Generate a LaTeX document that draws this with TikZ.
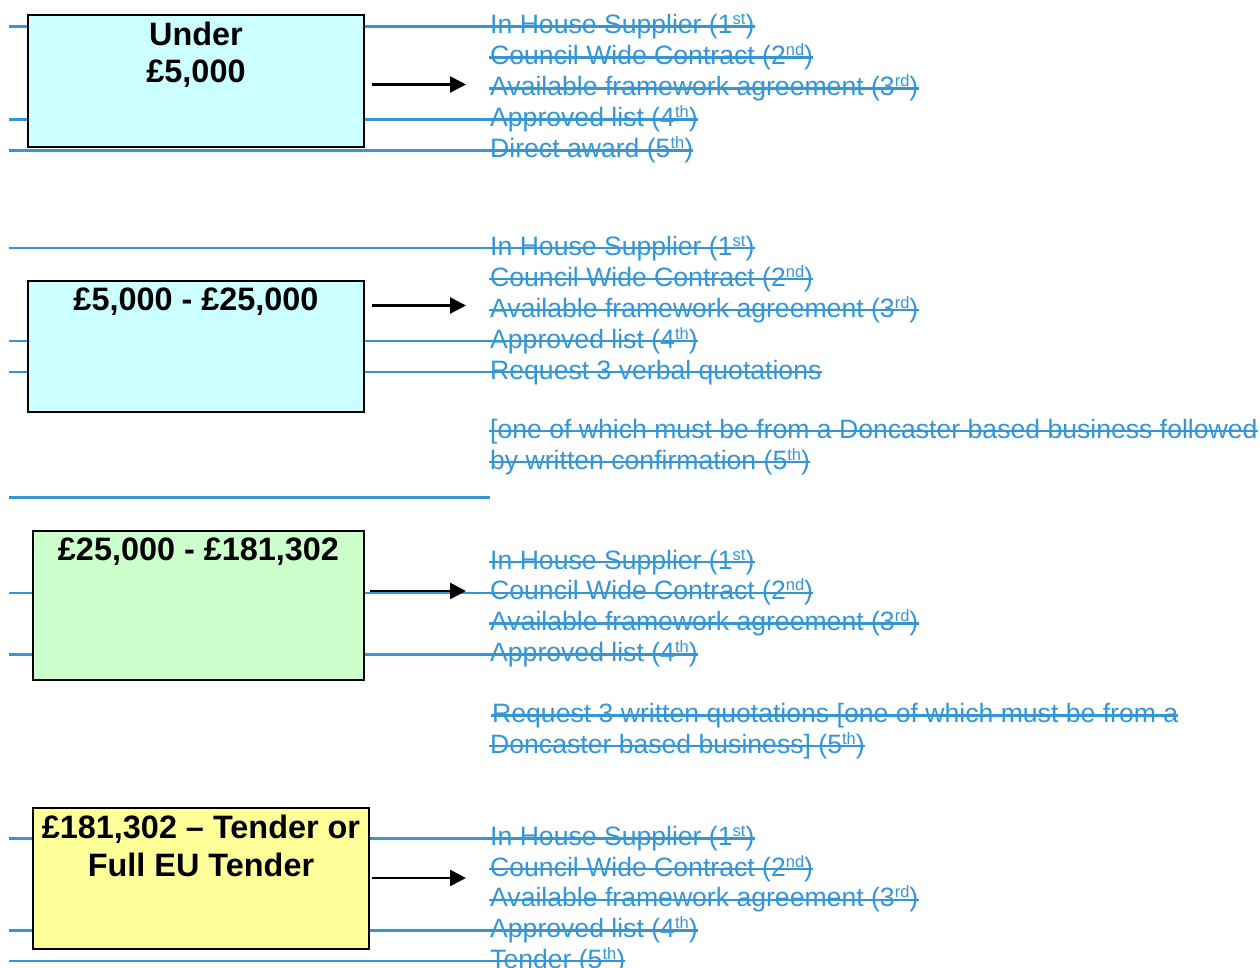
\documentclass[tikz,border=0pt]{standalone}
\usepackage{fontspec}
\setmainfont{Liberation Sans}
\usetikzlibrary{arrows.meta}
\definecolor{strikeblue}{RGB}{52,150,214}
\definecolor{boxcyan}{RGB}{204,255,255}
\definecolor{boxgreen}{RGB}{204,255,204}
\definecolor{boxyellow}{RGB}{255,255,153}
\newcommand\ordsup[1]{\raisebox{9pt}{\fontsize{16.5}{16.5}\selectfont #1}}
% name, x, baseline, long(1/0), text
\newcommand\optline[5]{%
  \node[opt] (#1) at (#2,#3) {#5};
  \ifnum#4=1
    \draw[sline] (9,#3-7) -- ([yshift=7pt]#1.base east);
  \else
    \draw[sline] ([yshift=7pt,xshift=-1pt]#1.base west) -- ([yshift=7pt]#1.base east);
  \fi}
\begin{document}
\begin{tikzpicture}[x=1pt,y=-1pt,
  opt/.style={anchor=base west, inner sep=0pt, text=strikeblue, font=\fontsize{26.6}{31}\selectfont},
  sline/.style={draw=strikeblue, line width=2.4pt},
  tbox/.style={draw=black, line width=2pt, inner sep=0pt},
  ttl/.style={anchor=north, inner sep=0pt, align=center, font=\fontsize{32.4}{37.5}\selectfont\bfseries},
  arr/.style={-{Triangle[length=16pt,width=16pt]}, line width=2.6pt}
]
\useasboundingbox (0,0) rectangle (1260,968);

% ---- group 1 options
\optline{ga1}{490}{33.5}{1}{In House Supplier (1\ordsup{st})}
\optline{ga2}{490}{64.5}{0}{Council Wide Contract (2\ordsup{nd})}
\optline{ga3}{490}{95.5}{0}{Available framework agreement (3\ordsup{rd})}
\optline{ga4}{490}{126.5}{1}{Approved list (4\ordsup{th})}
\optline{ga5}{490}{157.5}{1}{Direct award (5\ordsup{th})}

% ---- group 2 options
\optline{gb1}{490}{255}{1}{In House Supplier (1\ordsup{st})}
\optline{gb2}{490}{286}{0}{Council Wide Contract (2\ordsup{nd})}
\optline{gb3}{490}{317}{0}{Available framework agreement (3\ordsup{rd})}
\optline{gb4}{490}{348}{1}{Approved list (4\ordsup{th})}
\optline{gb5}{490}{379}{1}{Request 3 verbal quotations}
\optline{gb6}{490}{438}{0}{[one of which must be from a Doncaster based business followed}
\optline{gb7}{490}{469}{0}{by written confirmation (5\ordsup{th})}
\coordinate (gbL) at (9,497.5);
\coordinate (gbR) at (490,497.5);
\draw[sline] (gbL) -- (gbR);

% ---- group 3 options
\optline{gc1}{490}{569}{0}{In House Supplier (1\ordsup{st})}
\optline{gc2}{490}{599.8}{1}{Council Wide Contract (2\ordsup{nd})}
\optline{gc3}{490}{630.5}{0}{Available framework agreement (3\ordsup{rd})}
\optline{gc4}{490}{661.3}{1}{Approved list (4\ordsup{th})}
\optline{gc5}{492}{722.5}{0}{Request 3 written quotations [one of which must be from a}
\optline{gc6}{490}{753}{0}{Doncaster based business] (5\ordsup{th})}

% ---- group 4 options
\optline{gd1}{490}{845.3}{1}{In House Supplier (1\ordsup{st})}
\optline{gd2}{490}{876}{0}{Council Wide Contract (2\ordsup{nd})}
\optline{gd3}{490}{906.7}{0}{Available framework agreement (3\ordsup{rd})}
\optline{gd4}{490}{937.3}{1}{Approved list (4\ordsup{th})}
\optline{gd5}{490}{968}{1}{Tender (5\ordsup{th})}

% ---- boxes
\node[tbox, fill=boxcyan, minimum width=336pt, minimum height=132pt] (b1) at (196,81) {};
\node[tbox, fill=boxcyan, minimum width=336pt, minimum height=131pt] (b2) at (196,346.5) {};
\node[tbox, fill=boxgreen, minimum width=331pt, minimum height=149pt] (b3) at (198.5,605.5) {};
\node[tbox, fill=boxyellow, minimum width=336pt, minimum height=141pt] (b4) at (201,878.5) {};

\node[ttl] (t1) at (196,21.5) {Under\\£5,000};
\node[ttl] (t2) at (196,287.5) {£5,000 - £25,000};
\node[ttl] (t3) at (198.5,537.5) {£25,000 - £181,302};
\node[ttl] (t4) at (201,815) {£181,302 – Tender or\\Full EU Tender};

% ---- arrows
\coordinate (e1) at (466,84.5);
\coordinate (e2) at (466,305.5);
\coordinate (e3) at (466,591);
\coordinate (e4) at (466,878);
\draw[arr] ([xshift=7pt]b1.east |- e1) -- (e1);
\draw[arr] ([xshift=7pt]b2.east |- e2) -- (e2);
\draw[arr] ([xshift=5pt]b3.east |- e3) -- (e3);
\draw[arr] ([xshift=2pt]b4.east |- e4) -- (e4);
\end{tikzpicture}
\end{document}
